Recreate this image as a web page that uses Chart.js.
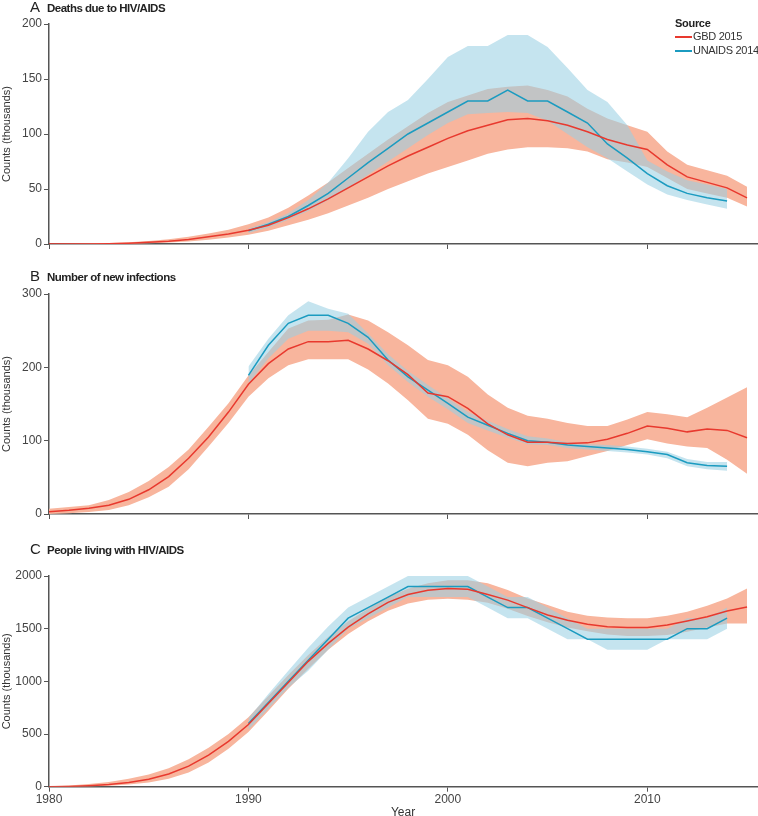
<!DOCTYPE html>
<html>
<head>
<meta charset="utf-8">
<script src="https://cdn.jsdelivr.net/npm/chart.js@4.4.1/dist/chart.umd.min.js"></script>
<style>
  body { margin: 0; background: #fff; font-family: "Liberation Sans", sans-serif; }
  #wrap { position: relative; width: 758px; height: 816px; overflow: hidden; }
  canvas { position: absolute; left: 0; }
  .ttl { position: absolute; left: 30px; font-size: 11.5px; letter-spacing: -0.5px; font-weight: bold; color: #222; white-space: nowrap; }
  .ttl .lt { display: inline-block; width: 17px; font-size: 15px; font-weight: normal; letter-spacing: 0; }
  .leg { position: absolute; left: 675px; font-size: 11px; letter-spacing: -0.3px; color: #333; white-space: nowrap; }
  .leg i { display: inline-block; width: 17px; height: 2px; vertical-align: middle; margin-right: 1px; }
</style>
</head>
<body>
<div id="wrap">
  <canvas id="chartA" width="758" height="260" style="top:0px"></canvas>
  <canvas id="chartB" width="758" height="260" style="top:270px"></canvas>
  <canvas id="chartC" width="758" height="268" style="top:552px"></canvas>
  <div class="ttl" style="top:-2px"><span class="lt">A</span>Deaths due to HIV/AIDS</div>
  <div class="ttl" style="top:267px"><span class="lt">B</span>Number of new infections</div>
  <div class="ttl" style="top:540px"><span class="lt">C</span>People living with HIV/AIDS</div>
  <div class="leg" style="top:17px;font-weight:bold;color:#222">Source</div>
  <div class="leg" style="top:30px"><i style="background:#e8392e"></i>GBD 2015</div>
  <div class="leg" style="top:44px"><i style="background:#1b9bc0"></i>UNAIDS 2014</div>
</div>
<script>
const gbdYears = [1980, 1981, 1982, 1983, 1984, 1985, 1986, 1987, 1988, 1989,
  1990, 1991, 1992, 1993, 1994, 1995, 1996, 1997, 1998, 1999,
  2000, 2001, 2002, 2003, 2004, 2005, 2006, 2007, 2008, 2009,
  2010, 2011, 2012, 2013, 2014, 2015];
const unaidsYears = [1990, 1991, 1992, 1993, 1994, 1995, 1996, 1997, 1998, 1999,
  2000, 2001, 2002, 2003, 2004, 2005, 2006, 2007, 2008, 2009,
  2010, 2011, 2012, 2013, 2014];
const xTicks = [1980, 1990, 2000, 2010];

// A: deaths (thousands)
const deathsGbd = [0, 0, 0.1, 0.3, 0.7, 1.5, 2.5, 4, 6.5, 9, 12.5, 17, 24, 32, 41, 51, 61, 71, 80, 88, 96, 103, 108, 113, 114, 112, 108, 102, 95, 90, 86, 72, 61, 56, 51, 42];
const deathsGbdHi = [0.1, 0.2, 0.4, 0.8, 1.5, 2.7, 4.3, 6.5, 9.5, 13, 18, 24, 33, 44, 56, 69, 82, 95, 107, 119, 129, 135, 141, 143, 144, 140, 134, 123, 114, 108, 102, 84, 72, 67, 62, 52];
const deathsGbdLo = [0, 0, 0, 0.1, 0.3, 0.7, 1.3, 2.3, 3.8, 5.8, 8.5, 12, 17, 22, 28, 35, 42, 50, 57, 64, 70, 76, 82, 86, 88, 88, 87, 84, 77, 74, 70, 60, 50, 46, 42, 34];
const deathsUn = [12, 18, 25, 35, 46, 60, 74, 87, 100, 110, 120, 130, 130, 140, 130, 130, 120, 110, 91, 78, 64, 53, 46, 42, 39];
const deathsUnHi = [14, 20, 28, 40, 56, 78, 102, 120, 131, 150, 170, 180, 180, 190, 190, 179, 160, 140, 129, 108, 76, 66, 58, 54, 50];
const deathsUnLo = [10, 15, 22, 30, 40, 51, 63, 75, 87, 99, 110, 118, 119, 120, 119, 112, 100, 88, 78, 66, 54, 45, 40, 36, 32];

// B: new infections (thousands)
const infGbd = [3, 5, 7.7, 12, 20, 33, 51, 76, 105, 139, 177, 205, 225, 235, 235, 237, 225, 209, 190, 165, 160, 144, 123, 108, 98, 98, 96, 97, 102, 110, 120, 117, 112, 116, 114, 104];
const infGbdHi = [7, 9.5, 12, 19, 30, 45, 64, 88, 119, 151, 189, 221, 253, 264, 265, 272, 264, 248, 230, 210, 203, 187, 163, 145, 134, 130, 124, 120, 120, 129, 139, 136, 132, 145, 159, 173];
const infGbdLo = [0, 1, 2.7, 5.5, 12, 23, 37, 61, 92, 124, 160, 185, 203, 211, 211, 211, 197, 178, 155, 130, 123, 108, 87, 70, 65, 70, 72, 79, 86, 94, 102, 96, 92, 90, 74, 55];
const infUn = [189, 230, 260, 271, 271, 260, 241, 210, 187, 169, 151, 132, 121, 110, 100, 98, 94, 92, 90, 88, 85, 81, 70, 66, 65];
const infUnHi = [201, 239, 271, 290, 280, 273, 246, 218, 195, 176, 158, 139, 127, 116, 106, 103, 98, 95, 94, 92, 89, 85, 75, 71, 71];
const infUnLo = [178, 212, 239, 250, 250, 248, 232, 203, 180, 160, 143, 124, 114, 104, 95, 94, 90, 88, 86, 84, 81, 76, 65, 61, 59];

// C: people living with HIV/AIDS (thousands)
const plwGbd = [0, 3, 10, 20, 40, 70, 120, 195, 300, 430, 590, 790, 990, 1190, 1360, 1515, 1640, 1750, 1825, 1865, 1882, 1875, 1825, 1771, 1700, 1630, 1580, 1541, 1518, 1512, 1512, 1534, 1572, 1613, 1667, 1705];
const plwGbdHi = [5, 12, 25, 45, 75, 115, 175, 260, 370, 500, 660, 860, 1060, 1250, 1420, 1570, 1690, 1800, 1880, 1930, 1960, 1960, 1930, 1866, 1787, 1724, 1660, 1622, 1607, 1600, 1598, 1622, 1660, 1717, 1787, 1882];
const plwGbdLo = [0, 0, 3, 8, 20, 40, 75, 135, 230, 360, 520, 720, 930, 1120, 1300, 1450, 1570, 1670, 1740, 1775, 1785, 1775, 1745, 1690, 1620, 1560, 1510, 1475, 1445, 1430, 1430, 1440, 1470, 1510, 1550, 1550];
const plwUn = [600, 800, 1000, 1200, 1400, 1600, 1700, 1800, 1900, 1900, 1900, 1900, 1800, 1700, 1700, 1600, 1500, 1400, 1400, 1400, 1400, 1400, 1500, 1500, 1600];
const plwUnHi = [650, 880, 1100, 1320, 1520, 1700, 1800, 1900, 2000, 2000, 2000, 2000, 1900, 1800, 1800, 1700, 1600, 1500, 1500, 1500, 1500, 1500, 1600, 1600, 1700];
const plwUnLo = [540, 740, 940, 1100, 1300, 1500, 1600, 1700, 1800, 1800, 1800, 1800, 1700, 1600, 1600, 1500, 1400, 1400, 1300, 1300, 1300, 1400, 1400, 1400, 1500];

const RED = "#e8392e";
const BLUE = "#1b9bc0";
const SALMON = "#f8b59d";
const BLUE_BAND = "rgba(153,208,227,0.57)";
const FONT = "'Liberation Sans', sans-serif";

function pts(xs, ys) {
  return xs.map((x, i) => ({ x: x, y: ys[i] }));
}

function band(xs, ys, color, fill) {
  return { data: pts(xs, ys), borderWidth: 0, pointRadius: 0, backgroundColor: color, fill: fill };
}

function makePanel(id, g, gHi, gLo, u, uHi, uLo, yMax, yStep, last) {
  new Chart(document.getElementById(id), {
    type: "line",
    data: {
      datasets: [
        { data: pts(gbdYears, g), borderColor: RED, borderWidth: 1.5, pointRadius: 0, fill: false },
        { data: pts(unaidsYears, u), borderColor: BLUE, borderWidth: 1.5, pointRadius: 0, fill: false },
        band(unaidsYears, uHi, BLUE_BAND, "+1"),
        band(unaidsYears, uLo, BLUE_BAND, false),
        band(gbdYears, gHi, SALMON, "+1"),
        band(gbdYears, gLo, SALMON, false),
      ],
    },
    options: {
      responsive: false,
      animation: false,
      layout: { padding: { top: 24, right: 1, left: 0, bottom: 0 } },
      plugins: {
        legend: { display: false },
        tooltip: { enabled: false },
        filler: { drawTime: "beforeDatasetsDraw" },
      },
      elements: { line: { tension: 0 } },
      scales: {
        x: {
          type: "linear",
          min: 1980,
          max: 2015.5,
          afterBuildTicks: (s) => { s.ticks = xTicks.map((v) => ({ value: v })); },
          afterFit: (s) => { s.height = last ? 33.3 : 16; },
          grid: { drawOnChartArea: false, drawTicks: true, tickLength: 5, color: "#555" },
          border: { display: true, color: "#555", width: 1.5 },
          ticks: { display: last, color: "#444", padding: 1, font: { family: FONT, size: 12 }, callback: (v) => String(v) },
          title: { display: last, text: "Year", color: "#333", padding: 0, font: { family: FONT, size: 12 } },
        },
        y: {
          min: 0,
          max: yMax,
          afterFit: (s) => { s.width = 49; },
          grid: { drawOnChartArea: false, drawTicks: true, tickLength: 5, color: "#555" },
          border: { display: true, color: "#555", width: 1.5 },
          ticks: { stepSize: yStep, color: "#444", padding: 2, font: { family: FONT, size: 12 }, callback: (v) => String(v) },
          title: { display: true, text: "Counts (thousands)", color: "#333", padding: 0, font: { family: FONT, size: 11 } },
        },
      },
    },
  });
}

makePanel("chartA", deathsGbd, deathsGbdHi, deathsGbdLo, deathsUn, deathsUnHi, deathsUnLo, 200, 50, false);
makePanel("chartB", infGbd, infGbdHi, infGbdLo, infUn, infUnHi, infUnLo, 300, 100, false);
makePanel("chartC", plwGbd, plwGbdHi, plwGbdLo, plwUn, plwUnHi, plwUnLo, 2000, 500, true);
</script>
</body>
</html>
